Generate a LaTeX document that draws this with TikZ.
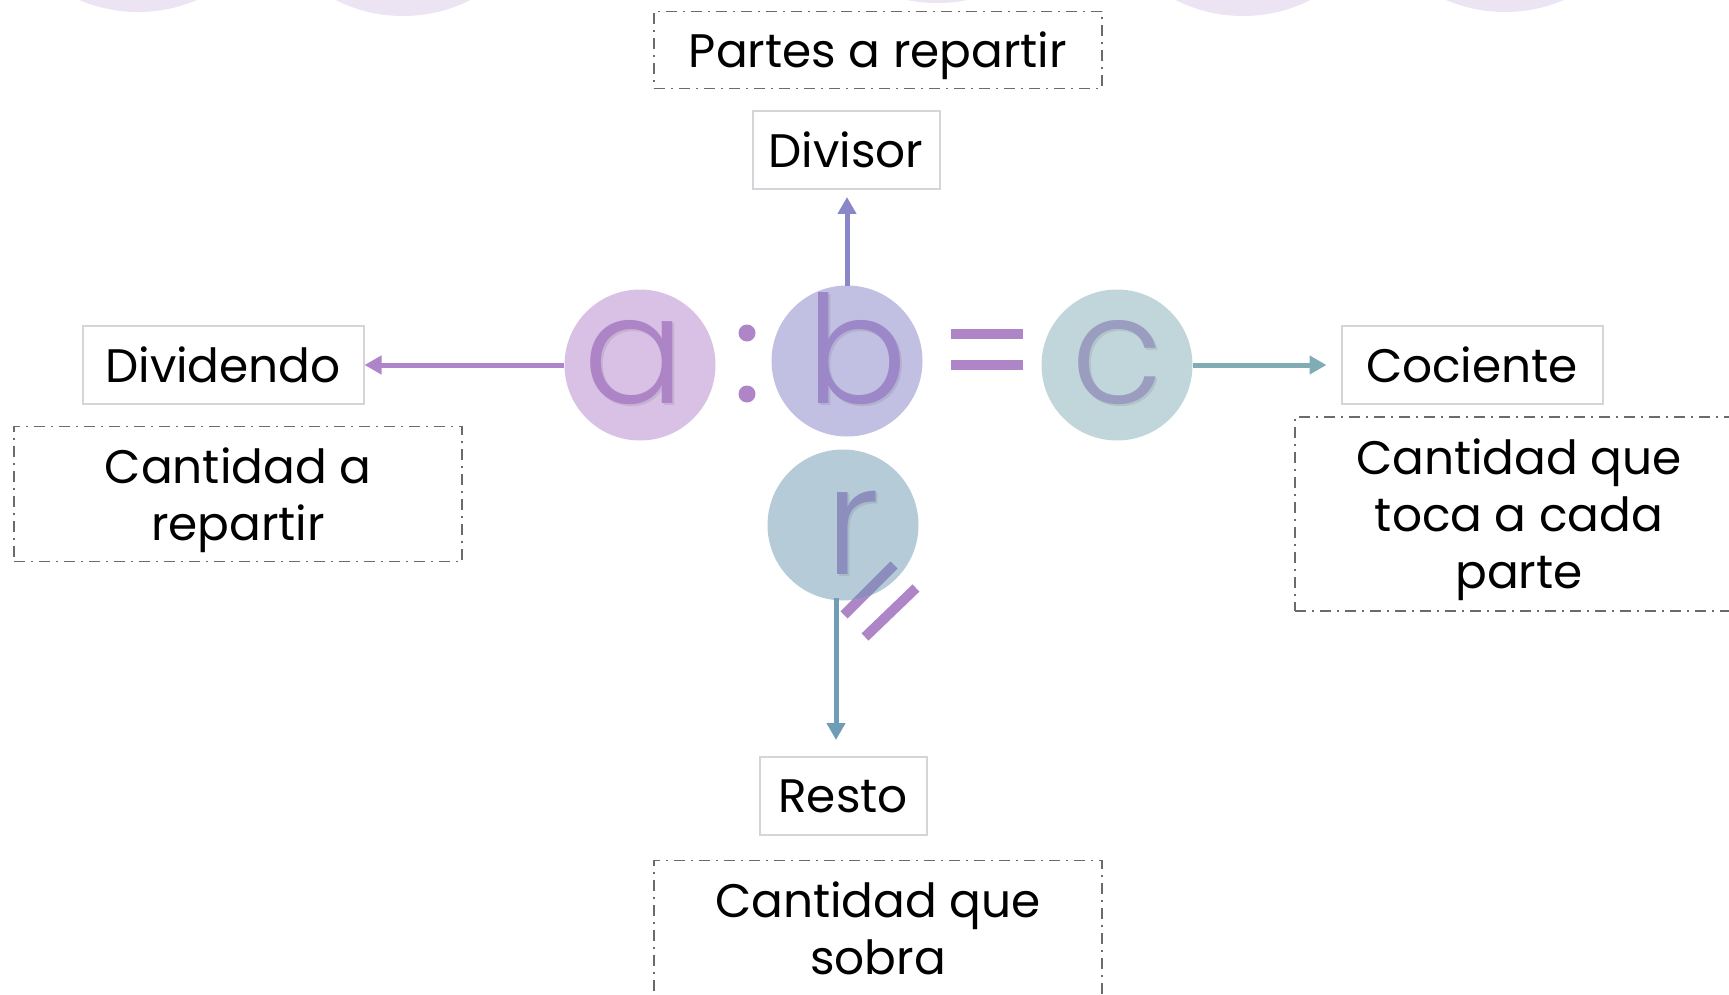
\documentclass[tikz,border=0pt]{standalone}
\usepackage{fontspec}
\setmainfont{Poppins}
\newfontfamily\lightfont{Poppins}[UprightFont={* Light}]
\usetikzlibrary{arrows.meta}
\definecolor{blobc}{HTML}{ECE4F2}
\definecolor{cafill}{HTML}{D8C1E4}
\definecolor{caletter}{HTML}{AD85C7}
\definecolor{cbfill}{HTML}{C2C0E2}
\definecolor{cbletter}{HTML}{9C87C8}
\definecolor{ccfill}{HTML}{C1D6DA}
\definecolor{ccletter}{HTML}{9A9DC0}
\definecolor{crfill}{HTML}{B5CBD7}
\definecolor{crletter}{HTML}{8C8FBD}
\definecolor{purp}{HTML}{AE86C8}
\definecolor{purpin}{HTML}{8C8DBD}
\definecolor{arrup}{HTML}{8A87C9}
\definecolor{arrleft}{HTML}{AE85C9}
\definecolor{arrright}{HTML}{80ACB6}
\definecolor{arrdown}{HTML}{6E9DB5}
\definecolor{solidgray}{HTML}{D6D3D9}
\definecolor{dashgray}{HTML}{6E6870}
\begin{document}
\begin{tikzpicture}[x=1pt,y=-1pt,
  solidbox/.style={draw=solidgray, line width=2pt, inner sep=0pt, minimum height=78pt,
    font=\fontsize{47}{57}\selectfont, text=black},
  dashbox/.style={draw=dashgray, line width=1.8pt, dash pattern=on 11pt off 6pt on 2pt off 6pt,
    inner sep=0pt, minimum width=448pt, align=center, text depth=0pt,
    font=\fontsize{47}{57}\selectfont, text=black},
  bubble/.style={circle, inner sep=0pt, minimum size=151pt},
  letter/.style={anchor=base, inner sep=0pt, font=\lightfont\fontsize{150}{150}\selectfont},
  conn/.style={line width=5pt, -{Triangle[length=17pt,width=18pt]}},
]
\useasboundingbox (0,0) rectangle (1729,995);
\clip (0,0) rectangle (1729,995);
% faint decorative circles at the top
\fill[blobc] (138,-138) circle (150pt);
\fill[blobc] (403,-134) circle (150pt);
\fill[blobc] (937,-147) circle (150pt);
\fill[blobc] (1243,-134) circle (150pt);
\fill[blobc] (1505,-138) circle (150pt);

% slash marks (drawn first, partly covered by r)
\draw[purp, line width=10pt] (844,615) -- (894,565);
\draw[purp, line width=10pt] (865,637) -- (916,588);

% bubbles
\node[bubble, fill=cafill] (a) at (640,365) {};
\node[bubble, fill=cbfill] (b) at (847,361) {};
\node[bubble, fill=ccfill] (c) at (1117,365) {};
\node[bubble, fill=crfill] (r) at (843,525) {};

% slash portion over r
\begin{scope}
  \clip (843,525) circle (75.5pt);
  \draw[purpin, line width=10pt] (844,615) -- (894,565);
\end{scope}

% letters (with a faint shadow)
\node[letter, text=black, opacity=0.08] (sa) at (636,405) {a};
\node[letter, text=black, opacity=0.08] (sb) at (859,405) {b};
\node[letter, text=black, opacity=0.08] (sc) at (1119,405) {c};
\node[letter, text=black, opacity=0.08] (sr) at (855,576) {r};
\node[letter, text=caletter] (la) at (634,403) {a};
\node[letter, text=cbletter] (lb) at (857,403) {b};
\node[letter, text=ccletter] (lc) at (1117,403) {c};
\node[letter, text=crletter] (lr) at (853,574) {r};

% colon and equals
\fill[purp] (747,333) circle (8.5pt);
\fill[purp] (747,394) circle (8.5pt);
\fill[purp] (951,329) rectangle (1023,339);
\fill[purp] (951,360) rectangle (1023,370);

% label boxes
\node[dashbox, minimum height=77pt] (partes) at (878,50) {Partes a repartir};
\node[solidbox, minimum width=187pt] (divisor) at (846,150) {Divisor};
\node[solidbox, minimum width=281pt] (dividendo) at (223,365) {Dividendo};
\node[dashbox, minimum height=135pt] (cantrep) at (238,494) {Cantidad a\\repartir};
\node[solidbox, minimum width=261pt] (cociente) at (1472,365) {Cociente};
\node[dashbox, minimum height=194pt] (canttoca) at (1519,514) {Cantidad que\\toca a cada\\parte};
\node[solidbox, minimum width=167pt] (resto) at (843,796) {Resto};
\node[dashbox, minimum height=135pt] (cantsobra) at (878,928) {Cantidad que\\sobra};

% connectors
\coordinate (bt) at (847,286);
\coordinate (rb) at (836,598);
\draw[conn, arrup] (bt) -- (847,197);
\draw[conn, arrleft] (a.west) -- (dividendo.east);
\draw[conn, arrright] (c.east) -- ([xshift=-14pt]cociente.west);
\draw[conn, arrdown] (rb) -- (836,740);
\end{tikzpicture}
\end{document}
